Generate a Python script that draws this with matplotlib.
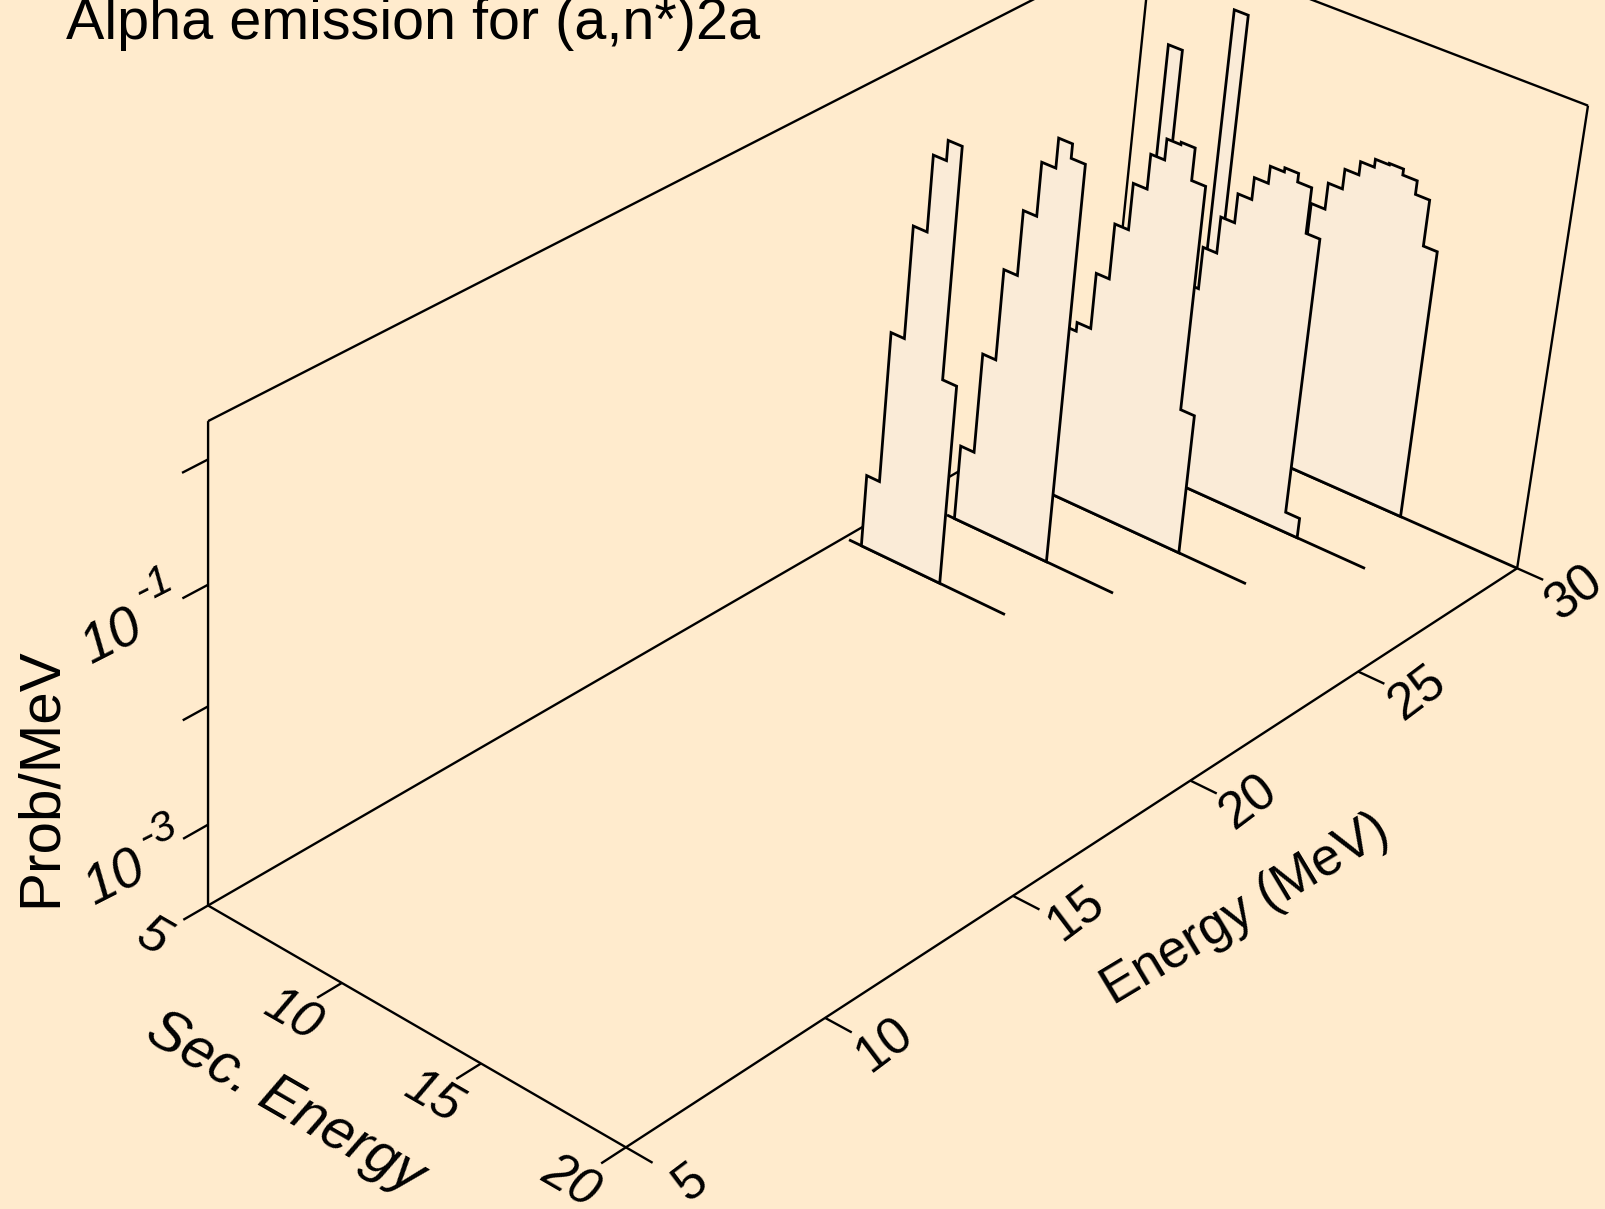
import numpy as np
import matplotlib
matplotlib.use("Agg")
import matplotlib.pyplot as plt

plt.rcParams["font.family"] = ["Liberation Sans", "DejaVu Sans"]

BG = "#FFEBCD"
FILL = "#FAEBD7"

# bin edges (MeV) and log10(prob/MeV) per spectrum
edges_30 = [9.56, 10.05, 10.54, 11.03, 11.5, 11.99, 12.49, 12.98, 13.46, 13.94, 14.43, 14.93, 15.42, 15.9]
logp_30 = [-3.0, -2.5, -2.1, -1.7, -1.366, -1.14, -0.97, -0.856, -0.788, -0.776, -0.827, -0.943, -1.339]
edges_28 = [9.07, 9.56, 10.05, 10.54, 11.03, 11.52, 12.01, 12.5, 12.98, 13.47, 13.95, 14.45]
logp_28 = [-2.6, -1.94, -1.576, -1.262, -1.012, -0.824, -0.678, -0.643, -0.716, -1.106, -3.524]
edges_26 = [7.6, 8.1, 8.6, 9.07, 9.56, 10.05, 10.54, 11.03, 11.52, 12.01, 12.5]
logp_26 = [-2.19, -2.113, -1.628, -1.151, -0.753, -0.457, -0.28, -0.26, -0.534, -2.466]
edges_24 = [6.62, 7.12, 7.6, 8.09, 8.57, 9.07, 9.56, 10.06]
logp_24 = [-3.039, -2.161, -1.372, -0.815, -0.358, -0.107, -0.228]
edges_22 = [5.65, 6.13, 6.62, 7.12, 7.59, 8.09, 8.6]
logp_22 = [-3.062, -1.742, -0.775, -0.129, 0.039, -1.944]

# the narrow peak that stands behind the two highest spectra
spike_edges = [8.1, 8.6]
spike_logp = [-0.023]

# where the floor line of each spectrum starts and stops
baseline_30 = [11.98, 20.0]
baseline_28 = [10.43, 16.87]
baseline_26 = [7.85, 14.92]
baseline_24 = [6.34, 12.5]
baseline_22 = [5.18, 11.01]

e_ticks = [5, 10, 15, 20, 25, 30]
s_ticks = [5, 10, 15, 20]
z_ticks = [-3, -2, -1, 0]
z_floor, z_top = -3.7, 0.3

# box corners in the picture, used only to solve the camera
calib = [
    (5, 5, -3.7, 208, 905), (5, 20, -3.7, 627, 1147), (30, 20, -3.7, 1517, 568),
    (5, 5, 0.3, 208, 421), (30, 20, 0.3, 1587.6, 105.4), (30, 5, -3.7, 1106, 386),
    (10, 20, -3.7, 824, 1018.5), (15, 20, -3.7, 1013, 897), (20, 20, -3.7, 1190, 780),
    (25, 20, -3.7, 1359, 671.5), (5, 10, -3.7, 342, 983), (5, 15, -3.7, 481, 1063),
    (5, 5, -3, 208, 825), (5, 5, -2, 208, 706.5), (5, 5, -1, 208, 585), (5, 5, 0, 208, 459),
    (30, 5, 0.3, 1153, -61),
]


def solve_camera(points):
    A = []
    b = []
    for E, S, z, x, y in points:
        A.append([E, S, z, 1, 0, 0, 0, 0, -x * E, -x * S, -x * z])
        b.append(x)
        A.append([0, 0, 0, 0, E, S, z, 1, -y * E, -y * S, -y * z])
        b.append(y)
    p = np.linalg.lstsq(np.array(A, float), np.array(b, float), rcond=None)[0]
    return np.append(p, 1).reshape(3, 4)


P = solve_camera(calib)


def project(E, S, z):
    E, S, z = np.broadcast_arrays(np.asarray(E, float), np.asarray(S, float), np.asarray(z, float))
    v = P @ np.stack([E, S, z, np.ones_like(E)])
    return v[0] / v[2], v[1] / v[2]


def draw_line(ax, E, S, z, lw=1.7):
    x, y = project(E, S, z)
    ax.plot(x, y, color="black", lw=lw, zorder=2, solid_capstyle="butt", solid_joinstyle="miter")


def draw_hist(ax, E, edges, logp, base):
    draw_line(ax, E, base, z_floor, lw=2.0)
    sx = np.repeat(edges, 2)
    sz = np.concatenate([[z_floor], np.repeat(logp, 2), [z_floor]])
    x, y = project(E, sx, sz)
    ax.fill(x, y, facecolor=FILL, edgecolor="black", lw=2.0, zorder=2, joinstyle="miter")


fig = plt.figure(figsize=(16.05, 12.09), dpi=100, facecolor=BG)
ax = fig.add_axes([0, 0, 1, 1])
ax.set_xlim(0, 1605)
ax.set_ylim(1209, 0)
ax.axis("off")

# box
draw_line(ax, [5, 5], 5, [z_floor, z_top])
draw_line(ax, [5, 30], 5, z_top)
draw_line(ax, [5, 30], 5, z_floor)
draw_line(ax, 30, 5, [z_floor, z_top])
draw_line(ax, 30, [5, 20], z_top)
draw_line(ax, 30, 20, [z_floor, z_top])
draw_line(ax, 5, [5, 20], z_floor)
draw_line(ax, [5, 30], 20, z_floor)

for e in e_ticks:
    draw_line(ax, e, [20, 20.9], z_floor)
for s in s_ticks:
    draw_line(ax, [5, 4.4], s, z_floor)
for z in z_ticks:
    draw_line(ax, [5, 4.4], 5, z)

# back to front
draw_hist(ax, 30, edges_30, logp_30, baseline_30)
draw_hist(ax, 30, spike_edges, spike_logp, spike_edges)
draw_hist(ax, 28, spike_edges, spike_logp, spike_edges)
draw_hist(ax, 28, edges_28, logp_28, baseline_28)
draw_hist(ax, 26, edges_26, logp_26, baseline_26)
draw_hist(ax, 24, edges_24, logp_24, baseline_24)
draw_hist(ax, 22, edges_22, logp_22, baseline_22)

ax.text(66, 39, "Alpha emission for (a,n*)2a", fontsize=41.4, ha="left", va="baseline")

e_label_pos = [(691, 1182), (885, 1046), (1075, 914), (1249, 803), (1418, 694), (1574, 594)]
for lab, (x, y) in zip(e_ticks, e_label_pos):
    ax.text(x, y, str(lab), fontsize=37, rotation=37, ha="center", va="center", rotation_mode="anchor")
s_label_pos = [(153, 937), (292, 1016), (433, 1097), (570, 1182)]
for lab, (x, y) in zip(s_ticks, s_label_pos):
    ax.text(x, y, str(lab), fontsize=37, rotation=-30, style="italic", ha="center", va="center", rotation_mode="anchor")

ax.text(1246, 910, "Energy (MeV)", fontsize=38, rotation=31, ha="center", va="center", rotation_mode="anchor")
ax.text(285, 1103, "Sec. Energy", fontsize=41, rotation=-30, style="italic", ha="center", va="center", rotation_mode="anchor")
ax.text(41, 777, "Prob/MeV", fontsize=42, rotation=90, ha="center", va="center", rotation_mode="anchor")

ax.text(112, 638, "10", fontsize=40, rotation=27, style="italic", ha="center", va="center", rotation_mode="anchor")
ax.text(154, 586, "-1", fontsize=31, rotation=27, style="italic", ha="center", va="center", rotation_mode="anchor")
ax.text(115, 879, "10", fontsize=40, rotation=27, style="italic", ha="center", va="center", rotation_mode="anchor")
ax.text(158, 832, "-3", fontsize=31, rotation=27, style="italic", ha="center", va="center", rotation_mode="anchor")

fig.savefig("out.png", dpi=100, facecolor=BG)
